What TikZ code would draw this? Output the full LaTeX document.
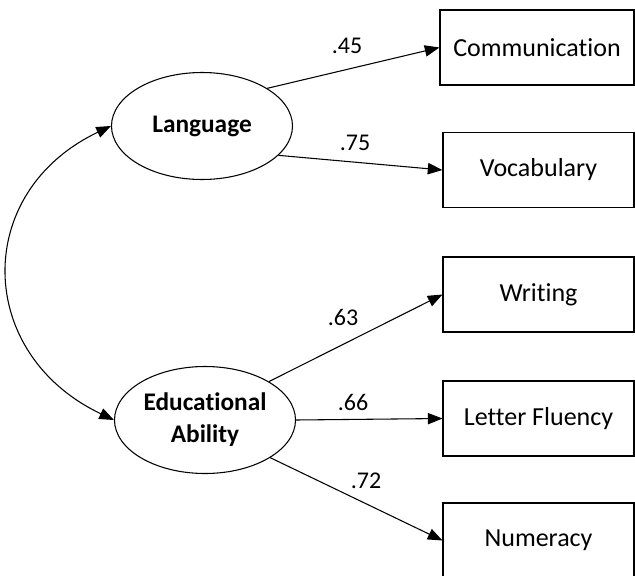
\documentclass[tikz,border=0pt]{standalone}
\usepackage{fontspec}
\setmainfont{Carlito}[Ligatures=NoCommon]
\usetikzlibrary{arrows.meta,shapes.geometric}
\begin{document}
\begin{tikzpicture}[x=0.75pt,y=-0.75pt,
  line width=0.8pt,
  obs/.style={draw, rectangle, minimum height=56.25pt, inner sep=0pt,
    font=\fontsize{19.5}{23}\selectfont},
  latent/.style={draw, ellipse, minimum width=135.75pt, minimum height=80.25pt,
    inner sep=0pt, align=center, font=\fontsize{19}{24}\selectfont\bfseries},
  coef/.style={inner sep=0pt, font=\fontsize{18}{22}\selectfont},
  path/.style={-{Triangle[length=11pt,width=8.5pt]}},
  cov/.style={{Triangle[length=11pt,width=8.5pt]}-{Triangle[length=11pt,width=8.5pt]}}
]
\useasboundingbox (0,0) rectangle (635,575);

% latent variables
\node[latent] (lang) at (202,126) {Language};
\node[latent] (edu) at (205,420) {Educational\\Ability};

% observed variables
\node[obs, minimum width=145.5pt] (comm) at (537,47.5) {Communication};
\node[obs, minimum width=143.25pt] (voc) at (538.5,170) {Vocabulary};
\node[obs, minimum width=143.25pt] (wri) at (538.5,294.5) {Writing};
\node[obs, minimum width=143.25pt] (lf) at (538.5,418.5) {Letter Fluency};
\node[obs, minimum width=143.25pt] (num) at (538.5,540.5) {Numeracy};

% paths
\draw[path] (lang.30) -- (comm.west);
\draw[path] (lang.-21) -- (voc.west);
\draw[path] (edu.31) -- (wri.west);
\draw[path] (edu.east) -- (lf.west);
\draw[path] (edu.-30) -- (num.west);

% covariance
\draw[cov] (lang.west) .. controls (-28,192) and (-25,354) .. (edu.west);

% coefficients
\node[coef] (c1) at (347,46) {.45};
\node[coef] (c2) at (355,143) {.75};
\node[coef] (c3) at (343,317) {.63};
\node[coef] (c4) at (353,402) {.66};
\node[coef] (c5) at (366,481) {.72};
\end{tikzpicture}
\end{document}
